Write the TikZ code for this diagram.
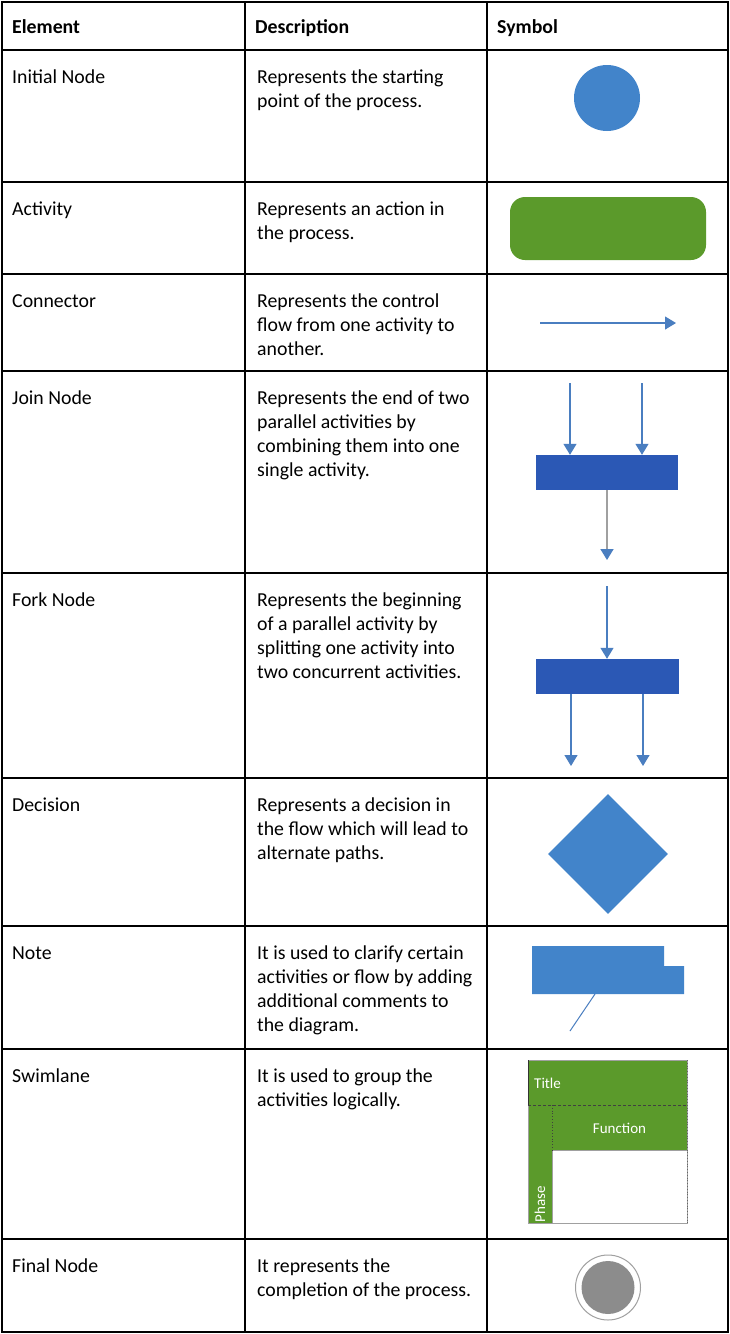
\documentclass[tikz,border=0pt]{standalone}
\usepackage{fontspec}
\setmainfont{Carlito}
\usetikzlibrary{arrows.meta,shapes.geometric}
\definecolor{symblue}{RGB}{66,132,202}
\definecolor{barblue}{RGB}{43,88,181}
\definecolor{arrblue}{RGB}{74,126,192}
\definecolor{symgreen}{RGB}{91,154,43}
\definecolor{lgray}{RGB}{160,160,160}
\definecolor{fgray}{RGB}{140,140,140}
\newcommand\celltext[4]{%
  \foreach \l [count=\i] in {#4} {%
    \node[txt] (#1-\i) at (#2,{#3+24*(\i-1)}) {\l};}}
\begin{document}
\begin{tikzpicture}[x=1pt,y=-1pt,
  txt/.style={anchor=base west,inner sep=0pt,font=\fontsize{19.8}{24}\selectfont},
  head/.style={txt,font=\fontsize{19.8}{24}\selectfont\bfseries},
  tbl/.style={line width=1.3pt,black},
  arr/.style={line width=1.2pt,arrblue,-{Triangle[width=13pt,length=11pt]}},
  grayarr/.style={line width=1.6pt,lgray,-{Triangle[width=13pt,length=11pt,fill=arrblue,color=arrblue]}},
  bar/.style={rectangle,fill=barblue,inner sep=0pt},
  swtxt/.style={inner sep=0pt,text=white,font=\fontsize{15}{17}\selectfont}]
\useasboundingbox (0,0) rectangle (730,1334);
\fill[white] (0,0) rectangle (730,1334);
% table grid
\draw[tbl] (2,2) rectangle (728,1332);
\foreach \yy in {50,182,274,371,573,778,926,1049,1239} \draw[tbl] (2,\yy) -- (728,\yy);
\draw[tbl] (245,2) -- (245,1332);
\draw[tbl] (487,2) -- (487,1332);
% header
\node[head] (h1) at (12,33) {Element};
\node[head] (h2) at (255,33) {Description};
\node[head] (h3) at (497,33) {Symbol};
% rows
\celltext{e1}{12}{83}{Initial Node}
\celltext{d1}{257}{83}{Represents the starting,point of the process.}
\celltext{e2}{12}{215}{Activity}
\celltext{d2}{257}{215}{Represents an action in,the process.}
\celltext{e3}{12}{307}{Connector}
\celltext{d3}{257}{307}{Represents the control,flow from one activity to,another.}
\celltext{e4}{12}{404}{Join Node}
\celltext{d4}{257}{404}{Represents the end of two,parallel activities by,combining them into one,single activity.}
\celltext{e5}{12}{606}{Fork Node}
\celltext{d5}{257}{606}{Represents the beginning,of a parallel activity by,splitting one activity into,two concurrent activities.}
\celltext{e6}{12}{811}{Decision}
\celltext{d6}{257}{811}{Represents a decision in,the flow which will lead to,alternate paths.}
\celltext{e7}{12}{959}{Note}
\celltext{d7}{257}{959}{It is used to clarify certain,activities or flow by adding,additional comments to,the diagram.}
\celltext{e8}{12}{1082}{Swimlane}
\celltext{d8}{257}{1082}{It is used to group the,activities logically.}
\celltext{e9}{12}{1272}{Final Node}
\celltext{d9}{257}{1272}{It represents the,completion of the process.}
% initial node
\node[circle,fill=symblue,minimum size=66pt,inner sep=0pt] (init) at (607,98) {};
% activity
\node[rectangle,rounded corners=15pt,fill=symgreen,minimum width=196pt,minimum height=63pt,inner sep=0pt] (act) at (608,228.5) {};
% connector
\coordinate (c1) at (540,323);
\coordinate (c2) at (676,323);
\draw[arr] (c1) -- (c2);
% join node
\node[bar,minimum width=142pt,minimum height=35pt] (join) at (607,472.5) {};
\coordinate (j1) at (570,383);
\coordinate (j2) at (642,383);
\coordinate (j3) at (607,560);
\draw[arr] (j1) -- (j1 |- join.north);
\draw[arr] (j2) -- (j2 |- join.north);
\draw[grayarr] (join.south) -- (j3);
% fork node
\node[bar,minimum width=143pt,minimum height=35pt] (fork) at (607.5,676.5) {};
\coordinate (f0) at (607,586);
\coordinate (f1) at (571,766);
\coordinate (f2) at (643,766);
\draw[arr] (f0) -- (f0 |- fork.north);
\draw[arr] (f1 |- fork.south) -- (f1);
\draw[arr] (f2 |- fork.south) -- (f2);
% decision
\node[diamond,fill=symblue,minimum width=120pt,minimum height=120pt,inner sep=0pt] (dec) at (608,854) {};
% note
\fill[symblue] (532,946) -- (664,946) -- (664,966) -- (684,966) -- (684,994) -- (532,994) -- cycle;
\coordinate (n1) at (595,994);
\coordinate (n2) at (570,1031);
\draw[line width=1pt,arrblue] (n1) -- (n2);
% swimlane
\fill[symgreen] (528,1060) rectangle (687,1150);
\fill[symgreen] (528,1150) rectangle (552,1223);
\fill[white] (552,1150) rectangle (687,1223);
\draw[line width=0.8pt,lgray] (528,1060) rectangle (687,1223);
\draw[line width=0.8pt,lgray] (552,1150) rectangle (687,1223);
\draw[line width=0.8pt,black!75,dashed,dash pattern=on 3pt off 2pt] (528,1105) -- (687,1105);
\draw[line width=0.8pt,black!75,dotted] (552,1105) -- (552,1150);
\draw[line width=0.8pt,black!60,dotted] (687,1060) -- (687,1223);
\draw[line width=0.8pt,black!80] (528,1060) -- (528,1105);
\node[swtxt,anchor=west] (sw1) at (534,1083) {Title};
\node[swtxt] (sw2) at (619.5,1128) {Function};
\node[swtxt,rotate=90] (sw3) at (540,1204) {Phase};
% final node
\node[circle,draw=lgray,line width=1pt,minimum width=64pt,minimum height=65pt,inner sep=0pt] (fin) at (608,1287.5) {};
\node[circle,fill=fgray,minimum size=53pt,inner sep=0pt] (fin2) at (608,1287.5) {};
\end{tikzpicture}
\end{document}
